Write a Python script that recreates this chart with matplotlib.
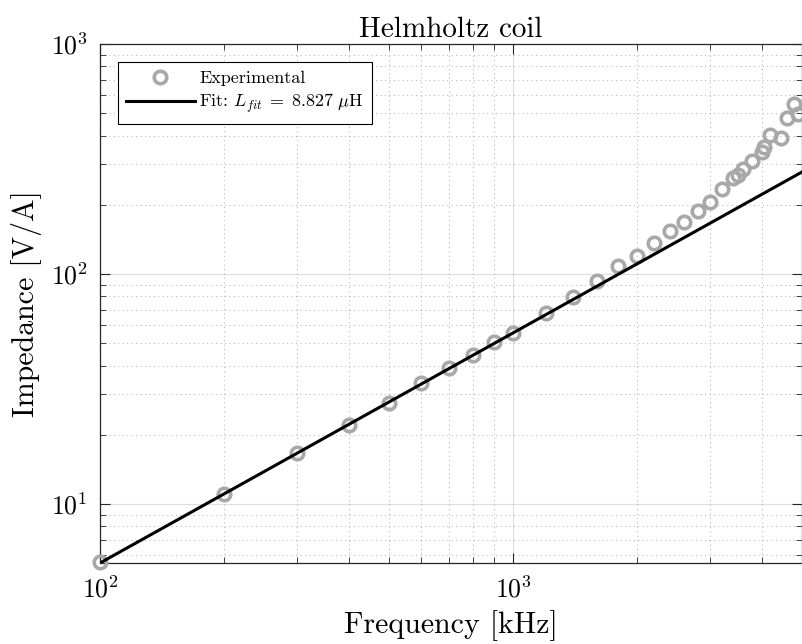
import numpy as np
import matplotlib
matplotlib.use("Agg")
import matplotlib.pyplot as plt
from matplotlib.ticker import LogLocator, NullFormatter

plt.rcParams["font.family"] = "serif"
plt.rcParams["font.serif"] = ["cmr10", "DejaVu Serif"]
plt.rcParams["mathtext.fontset"] = "cm"
plt.rcParams["axes.formatter.use_mathtext"] = True

# Measured impedance of the Helmholtz coil
freq_khz = [100, 200, 300, 400, 500, 600, 700, 800, 900, 1000,
            1200, 1400, 1600, 1800, 2000, 2200, 2400, 2600, 2800, 3000,
            3200, 3400, 3500, 3600, 3800, 4000, 4050, 4200, 4450, 4600,
            4800, 4900]
impedance = [5.6, 11.05, 16.6, 22.0, 27.4, 33.5, 38.9, 44.3, 50.5, 55.7,
             67.5, 79.8, 93.7, 107.9, 120.2, 137, 154.6, 169, 188.8, 206.5,
             235, 262, 270, 287, 310, 340, 357, 403, 391, 477,
             550, 497]

L_fit_uH = 8.827
x_range = [100, 5000]

fig = plt.figure(figsize=(8.02, 6.44), dpi=100)
ax = fig.add_axes([100 / 802, 81 / 644, 701.7 / 802, 519 / 644])

ax.plot(freq_khz, impedance, "o", mfc="none", mec=(0.66, 0.66, 0.66),
        mew=2.6, ms=9, label="Experimental", zorder=3, clip_on=False)

f_line = np.logspace(np.log10(x_range[0]), np.log10(x_range[1]), 200)
z_line = 2 * np.pi * f_line * 1e3 * L_fit_uH * 1e-6
ax.plot(f_line, z_line, "-", color="black", lw=2.2,
        label=r"Fit: $L_{fit}\;=\;8.827\ \mu$H", zorder=4)

ax.set_xscale("log")
ax.set_yscale("log")
ax.set_xlim(x_range)
ax.set_ylim(2 * np.pi * x_range[0] * 1e3 * L_fit_uH * 1e-6, 1000)

ax.xaxis.set_major_locator(LogLocator(base=10))
ax.yaxis.set_major_locator(LogLocator(base=10))
ax.xaxis.set_minor_locator(LogLocator(base=10, subs=np.arange(2, 10)))
ax.yaxis.set_minor_locator(LogLocator(base=10, subs=np.arange(2, 10)))
ax.xaxis.set_minor_formatter(NullFormatter())
ax.yaxis.set_minor_formatter(NullFormatter())

ax.grid(True, which="major", color=(0.15, 0.15, 0.15), alpha=0.15, lw=0.8)
ax.grid(True, which="minor", color=(0.15, 0.15, 0.15), alpha=0.3, lw=0.8,
        linestyle=(0, (1, 3)))
ax.tick_params(which="both", direction="in", top=True, right=True,
               color=(0.15, 0.15, 0.15))
ax.tick_params(which="major", length=7, labelsize=18.5, width=0.8, pad=9)
ax.tick_params(which="minor", length=4, width=0.6)
for s in ax.spines.values():
    s.set_color((0.15, 0.15, 0.15))
    s.set_linewidth(0.9)

ax.set_xlabel("Frequency [kHz]", fontsize=21.5, labelpad=6)
ax.set_ylabel("Impedance [V/A]", fontsize=21.5, labelpad=6)
ax.set_title("Helmholtz coil", fontsize=21, pad=5)

leg = ax.legend(loc="upper left", fontsize=13, fancybox=False,
                framealpha=1, edgecolor="black", borderaxespad=1.0,
                handlelength=3.8, handletextpad=0.25, borderpad=0.45,
                labelspacing=0.35)
leg.get_frame().set_linewidth(0.8)

fig.savefig("out.png", dpi=100)
